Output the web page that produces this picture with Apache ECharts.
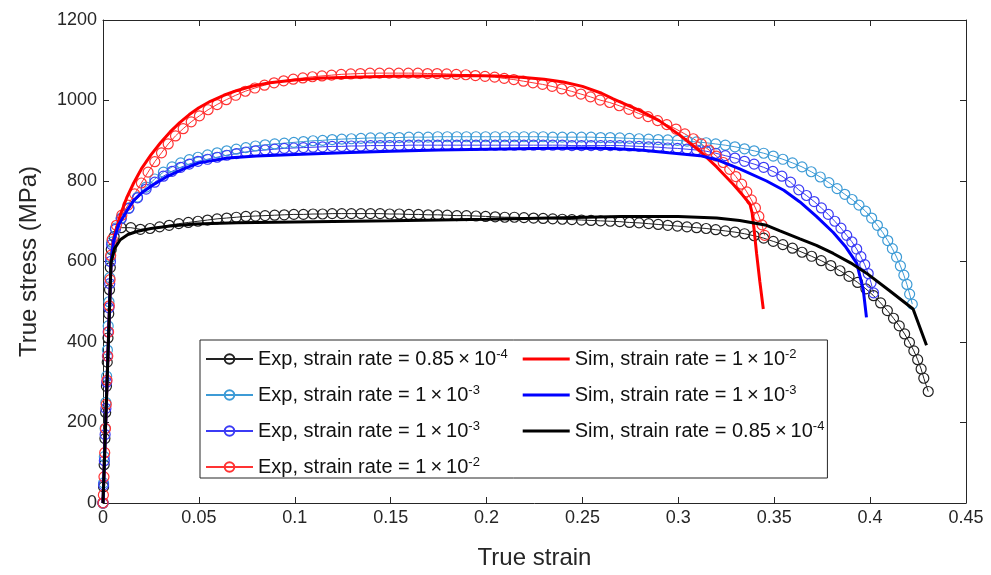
<!DOCTYPE html>
<html>
<head>
<meta charset="utf-8">
<script src="https://cdn.jsdelivr.net/npm/echarts@6/dist/echarts.min.js"></script>
<style>
html,body{margin:0;padding:0;background:#fff;}
#chart{width:991px;height:575px;}
</style>
</head>
<body>
<div id="chart"></div>
<script>
// ---------- axis ticks ----------
const xTickLabels = ['0','0.05','0.1','0.15','0.2','0.25','0.3','0.35','0.4','0.45'];
const yTickLabels = ['0','200','400','600','800','1000','1200'];

// ---------- series names ----------
const expNames = [
  'Exp, strain rate = 0.85×10^-4',
  'Exp, strain rate = 1×10^-3',
  'Exp, strain rate = 1×10^-3\u200B',
  'Exp, strain rate = 1×10^-2'
];
const simNames = [
  'Sim, strain rate = 1×10^-2',
  'Sim, strain rate = 1×10^-3',
  'Sim, strain rate = 0.85×10^-4'
];

// ---------- experimental data [true strain, true stress MPa] ----------
const expBlack = [
  [0,0],[0.0003,40],[0.0006,95],[0.001,160],[0.0014,225],[0.0018,290],[0.0022,350],[0.0026,410],[0.003,470],[0.0034,530],[0.0038,585],[0.0043,630],[0.0058,662],
  [0.0095,684],[0.0145,684],[0.0195,680],[0.0245,682],[0.0295,686],[0.0345,690],[0.0395,694],[0.0445,697],[0.0495,700],[0.0545,703],[0.0595,706],[0.0645,708],
  [0.0695,710],[0.0745,712],[0.0795,713],[0.0845,714],[0.0895,715],[0.0945,716],[0.0995,717],[0.1045,717],[0.1095,718],[0.1145,718],[0.1195,719],[0.1245,719],
  [0.1295,719],[0.1345,719],[0.1395,719],[0.1445,719],[0.1495,718],[0.1545,718],[0.1595,717],[0.1645,717],[0.1695,716],[0.1745,716],[0.1795,715],[0.1845,714],
  [0.1895,714],[0.1945,713],[0.1995,712],[0.2045,711],[0.2095,710],[0.2145,710],[0.2195,709],[0.2245,708],[0.2295,707],[0.2345,706],[0.2395,705],[0.2445,704],
  [0.2495,703],[0.2545,702],[0.2595,701],[0.2645,700],[0.2695,699],[0.2745,697],[0.2795,696],[0.2845,694],[0.2895,692],[0.2945,690],[0.2995,688],[0.3045,686],
  [0.3095,684],[0.3145,682],[0.3195,679],[0.3245,676],[0.3295,673],[0.3345,669],[0.3395,664],[0.3445,658],[0.3495,650],[0.3545,642],[0.3595,633],[0.3645,623],
  [0.3695,613],[0.3745,602],[0.3795,590],[0.3843,577],[0.389,563],[0.3935,548],[0.3978,532],[0.4018,515],[0.4055,497],[0.409,478],[0.4122,459],[0.4152,440],
  [0.418,420],[0.4205,399],[0.4228,378],[0.4248,356],[0.4266,333],[0.428,310],[0.4303,277]
];
const expLightBlue = [
  [0,0],[0.0003,50],[0.0007,115],[0.0011,185],[0.0015,250],[0.0019,315],[0.0023,380],[0.0027,440],[0.0031,500],[0.0035,560],[0.0039,610],[0.0045,648],[0.0065,683],
  [0.0095,708],[0.0135,733],[0.018,760],[0.0225,785],[0.027,805],[0.0315,822],[0.036,835],[0.0405,845],[0.045,853],[0.0495,859],[0.0545,865],[0.0595,870],
  [0.0645,875],[0.0695,879],[0.0745,883],[0.0795,887],[0.0845,890],[0.0895,892],[0.0945,894],[0.0995,896],[0.1045,898],[0.1095,900],[0.1145,901],[0.1195,903],
  [0.1245,904],[0.1295,905],[0.1345,906],[0.1395,907],[0.1445,907],[0.1495,908],[0.1545,908],[0.1595,909],[0.1645,909],[0.1695,909],[0.1745,910],[0.1795,910],
  [0.1845,910],[0.1895,910],[0.1945,910],[0.1995,910],[0.2045,910],[0.2095,910],[0.2145,910],[0.2195,910],[0.2245,910],[0.2295,910],[0.2345,909],[0.2395,909],
  [0.2445,909],[0.2495,909],[0.2545,909],[0.2595,908],[0.2645,908],[0.2695,907],[0.2745,906],[0.2795,905],[0.2845,904],[0.2895,903],[0.2945,902],[0.2995,901],
  [0.3045,899],[0.3095,897],[0.3145,895],[0.3195,892],[0.3245,889],[0.3295,885],[0.3345,880],[0.3395,875],[0.3445,869],[0.3495,862],[0.3545,854],[0.3595,845],
  [0.3645,835],[0.3693,823],[0.374,810],[0.3785,796],[0.3828,781],[0.3868,767],[0.3906,754],[0.3942,740],[0.3976,725],[0.4008,708],[0.4038,690],[0.4066,672],
  [0.4092,652],[0.4116,632],[0.4138,611],[0.4158,589],[0.4176,566],[0.4192,543],[0.4206,519],[0.422,494]
];
const expBlue = [
  [0,0],[0.0003,45],[0.0007,105],[0.0011,170],[0.0015,235],[0.0019,300],[0.0023,365],[0.0027,425],[0.0031,485],[0.0035,545],[0.0039,600],[0.0045,642],[0.0065,680],
  [0.0095,706],[0.0135,732],[0.018,758],[0.0225,780],[0.027,797],[0.0315,812],[0.036,824],[0.0405,834],[0.045,842],[0.0495,849],[0.0545,854],[0.0595,859],
  [0.0645,864],[0.0695,868],[0.0745,872],[0.0795,875],[0.0845,877],[0.0895,879],[0.0945,881],[0.0995,882],[0.1045,883],[0.1095,884],[0.1145,885],[0.1195,886],
  [0.1245,886],[0.1295,887],[0.1345,887],[0.1395,888],[0.1445,888],[0.1495,888],[0.1545,888],[0.1595,889],[0.1645,889],[0.1695,889],[0.1745,889],[0.1795,889],
  [0.1845,889],[0.1895,889],[0.1945,889],[0.1995,889],[0.2045,889],[0.2095,889],[0.2145,889],[0.2195,889],[0.2245,889],[0.2295,889],[0.2345,889],[0.2395,889],
  [0.2445,888],[0.2495,888],[0.2545,888],[0.2595,888],[0.2645,888],[0.2695,888],[0.2745,887],[0.2795,886],[0.2845,885],[0.2895,884],[0.2945,882],[0.2995,881],
  [0.3045,879],[0.3095,877],[0.3145,874],[0.3195,869],[0.3245,863],[0.3295,857],[0.3345,849],[0.3395,842],[0.3445,834],[0.3493,824],[0.354,812],[0.3585,797],
  [0.3628,778],[0.3668,764],[0.3708,749],[0.3746,733],[0.3782,717],[0.3816,700],[0.3848,683],[0.3878,665],[0.3905,649],[0.393,631],[0.3952,612],[0.3972,592],
  [0.399,570],[0.4005,547],[0.4018,522]
];
const expRed = [
  [0,0],[0.0002,20],[0.0005,65],[0.0009,125],[0.0013,185],[0.0017,245],[0.0021,305],[0.0025,365],[0.0029,425],[0.0033,490],[0.0037,555],[0.004,615],[0.0048,655],
  [0.007,690],[0.0098,715],[0.013,740],[0.0165,768],[0.02,795],[0.0235,822],[0.027,848],[0.0305,870],[0.034,892],[0.0378,912],[0.0418,930],[0.046,947],
  [0.0503,962],[0.0548,977],[0.0595,990],[0.0643,1002],[0.0692,1013],[0.0742,1023],[0.0792,1031],[0.0842,1038],[0.0892,1044],[0.0942,1049],[0.0992,1053],
  [0.1042,1056],[0.1092,1059],[0.1142,1061],[0.1192,1063],[0.1242,1065],[0.1292,1066],[0.1342,1067],[0.1392,1068],[0.1442,1068],[0.1492,1068],[0.1542,1068],
  [0.1592,1068],[0.1642,1068],[0.1692,1067],[0.1742,1067],[0.1792,1066],[0.1842,1065],[0.1892,1064],[0.1942,1062],[0.1992,1060],[0.2042,1058],[0.2092,1055],
  [0.2142,1052],[0.2192,1048],[0.2242,1044],[0.2292,1040],[0.2342,1035],[0.2392,1029],[0.2442,1023],[0.2492,1016],[0.2542,1009],[0.2592,1001],[0.2642,995],
  [0.2692,987],[0.2742,978],[0.2792,968],[0.2842,960],[0.2892,950],[0.294,940],[0.2988,929],[0.3034,917],[0.3078,905],[0.312,892],[0.316,877],[0.3198,862],
  [0.3234,846],[0.3268,829],[0.33,811],[0.333,792],[0.3357,773],[0.3381,753],[0.3402,733],[0.342,712],[0.3436,691],[0.345,665]
];

// ---------- simulated data ----------
const simRed = [
  [0,0],[0.0042,600],[0.006,665],[0.009,715],[0.0125,760],[0.016,795],[0.02,830],[0.025,865],[0.03,895],[0.035,922],[0.04,945],[0.045,965],[0.05,982],
  [0.056,998],[0.063,1013],[0.07,1025],[0.078,1036],[0.087,1044],[0.1,1051],[0.115,1056],[0.13,1058],[0.15,1060],[0.17,1061],[0.19,1062],[0.205,1061],
  [0.218,1058],[0.23,1053],[0.24,1046],[0.25,1035],[0.26,1018],[0.266,1004],[0.28,975],[0.29,950],[0.3008,914],[0.3113,874],[0.32,835],[0.3286,792],
  [0.3335,765],[0.3373,743],[0.3385,720],[0.3395,680],[0.3408,620],[0.3425,550],[0.3443,482]
];
const simBlue = [
  [0,0],[0.0042,600],[0.0055,650],[0.008,690],[0.0123,725],[0.016,752],[0.02,770],[0.026,790],[0.033,810],[0.042,830],[0.05,845],[0.065,857],[0.08,862],
  [0.1,866],[0.125,870],[0.15,874],[0.175,877],[0.2,879],[0.225,881],[0.25,882],[0.265,881],[0.28,877],[0.295,870],[0.3113,863],[0.32,853],[0.332,830],
  [0.346,800],[0.355,777],[0.3634,748],[0.372,712],[0.3808,672],[0.387,638],[0.393,596],[0.3964,531],[0.3981,461]
];
const simBlack = [
  [0,0],[0.0042,598],[0.006,632],[0.009,654],[0.013,667],[0.018,675],[0.025,682],[0.035,688],[0.048,693],[0.07,696],[0.1,698],[0.15,701],[0.2,705],
  [0.24,709],[0.27,712],[0.3,712],[0.32,708],[0.332,702],[0.346,690],[0.353,676],[0.3634,656],[0.372,640],[0.3808,620],[0.39,596],[0.3981,571],
  [0.41,528],[0.4224,482],[0.4294,392]
];

const expColors = ['#222222', '#3d9bd6', '#3b3bf5', '#ff3333'];
const simColors = ['#ff0000', '#0000ff', '#000000'];
const expData = [expBlack, expLightBlue, expBlue, expRed];
const simData = [simRed, simBlue, simBlack];

const FONT = '"Liberation Sans", Arial, Helvetica, sans-serif';
const AX = '#262626';

const chart = echarts.init(document.getElementById('chart'), null, {renderer: 'canvas'});

const series = [];
expData.forEach((d, i) => {
  series.push({
    type: 'line', name: expNames[i], data: d,
    symbol: 'circle', symbolSize: 10, showSymbol: true, showAllSymbol: true,
    lineStyle: {color: expColors[i], width: 1},
    itemStyle: {color: 'rgba(255,255,255,0)', borderColor: expColors[i], borderWidth: 1.2},
    emphasis: {disabled: true}, silent: true, clip: false, z: 2
  });
});
simData.forEach((d, i) => {
  series.push({
    type: 'line', name: simNames[i], data: d,
    symbol: 'none', showSymbol: false,
    lineStyle: {color: simColors[i], width: 3},
    itemStyle: {color: simColors[i]},
    emphasis: {disabled: true}, silent: true, clip: false, z: 3
  });
});

function fmtName(name) {
  return name.replace('\u200B', '').replace('×', '\u2009×\u2009').replace(/\^(-\d+)/, '{sup|$1}');
}

const xAxisBase = {
  type: 'value', min: 0, max: 0.45, interval: 0.05,
  axisLine: {show: true, onZero: false, lineStyle: {color: AX, width: 1}},
  axisTick: {show: true, inside: true, length: 6, lineStyle: {color: AX}},
  splitLine: {show: false}
};
const yAxisBase = {
  type: 'value', min: 0, max: 1200, interval: 200,
  axisLine: {show: true, onZero: false, lineStyle: {color: AX, width: 1}},
  axisTick: {show: true, inside: true, length: 6, lineStyle: {color: AX}},
  splitLine: {show: false}
};

chart.setOption({
  animation: false,
  backgroundColor: '#fff',
  grid: {left: 103, right: 25, top: 20, bottom: 65, containLabel: false},
  xAxis: [
    Object.assign({}, xAxisBase, {
      position: 'bottom',
      name: 'True strain', nameLocation: 'middle', nameGap: 43,
      nameTextStyle: {fontSize: 24, color: AX, fontFamily: FONT},
      axisLabel: {fontSize: 18, color: AX, fontFamily: FONT, margin: 6,
        formatter: v => xTickLabels[Math.round(v / 0.05)]}
    }),
    Object.assign({}, xAxisBase, {position: 'top', axisLabel: {show: false}})
  ],
  yAxis: [
    Object.assign({}, yAxisBase, {
      position: 'left',
      name: 'True stress (MPa)', nameLocation: 'middle', nameGap: 62,
      nameTextStyle: {fontSize: 24, color: AX, fontFamily: FONT},
      axisLabel: {fontSize: 18, color: AX, fontFamily: FONT, margin: 6,
        formatter: v => yTickLabels[Math.round(v / 200)]}
    }),
    Object.assign({}, yAxisBase, {position: 'right', axisLabel: {show: false}})
  ],
  legend: {
    orient: 'vertical', left: 200, top: 340, height: 130,
    padding: [8, 3, 0, 5], itemGap: 14, itemWidth: 47, itemHeight: 12,
    backgroundColor: '#fff', borderColor: AX, borderWidth: 1, borderRadius: 0,
    selectedMode: false,
    textStyle: {fontSize: 20, color: '#111', fontFamily: FONT, lineHeight: 22,
      rich: {sup: {fontSize: 13, fontFamily: FONT, color: '#111', verticalAlign: 'top', lineHeight: 14}}},
    formatter: fmtName,
    data: expNames.map(n => ({name: n})).concat(simNames.map(n => ({name: n, icon: 'path://M0,0H46V3H0Z'})))
  },
  series: series
});
</script>
</body>
</html>
